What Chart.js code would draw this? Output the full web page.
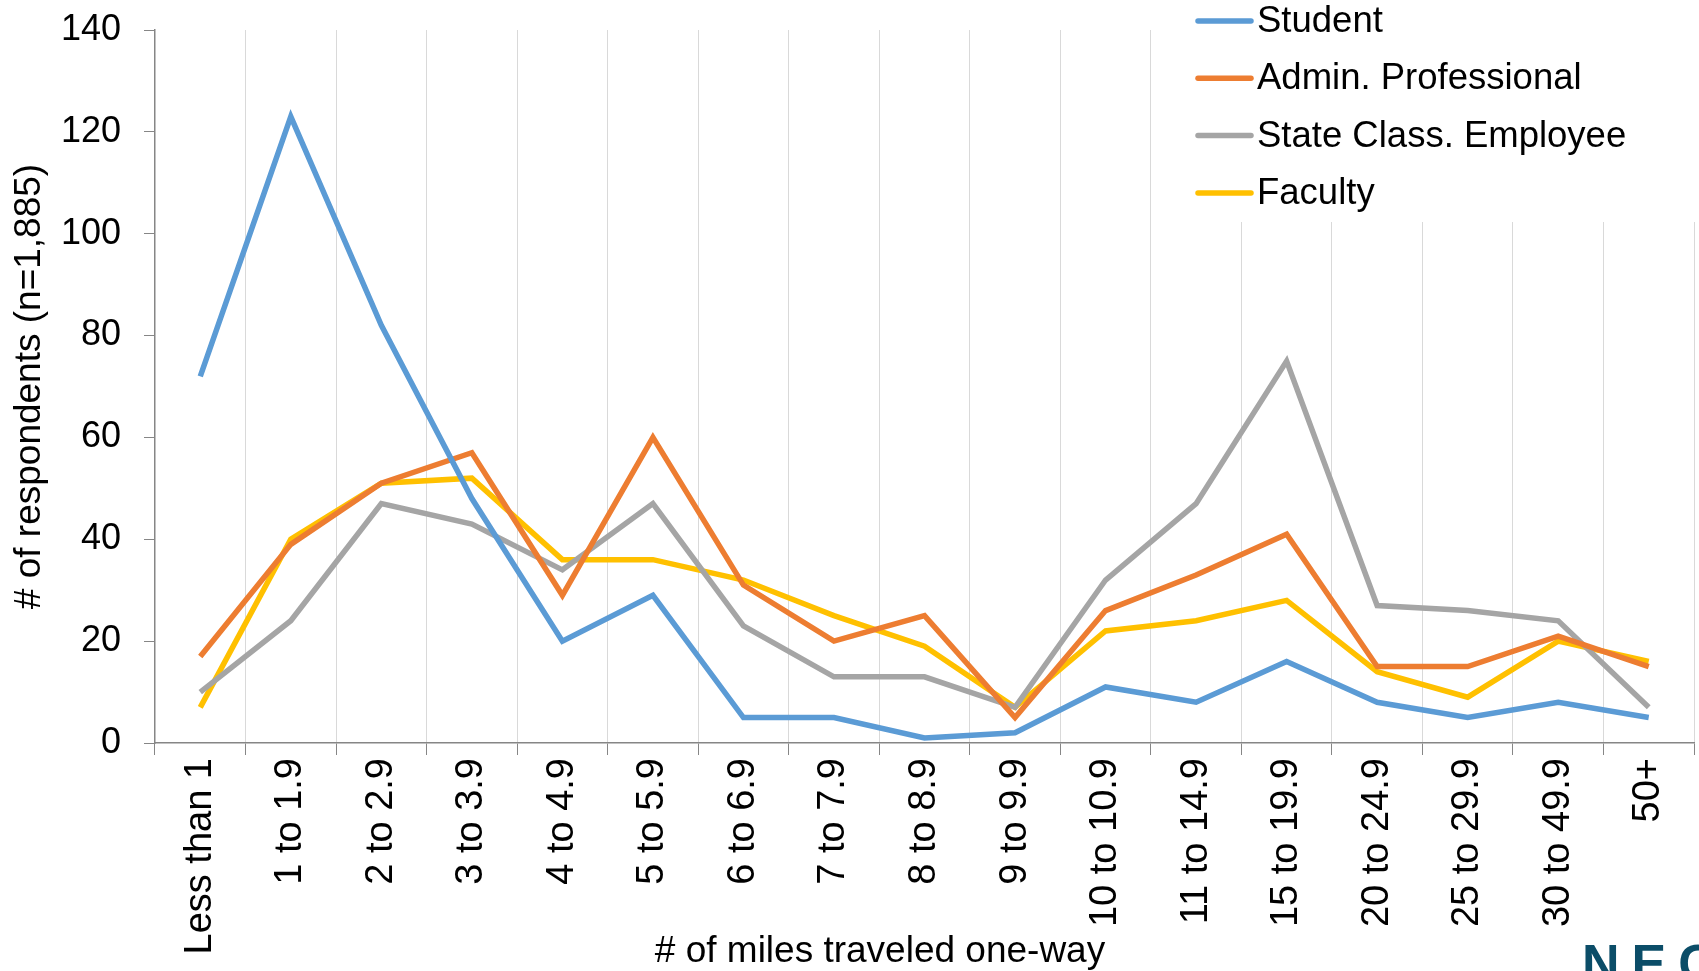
<!DOCTYPE html>
<html lang="en">
<head>
<meta charset="UTF-8">
<title>Miles traveled one-way</title>
<script src="https://cdn.jsdelivr.net/npm/chart.js"></script>
<style>
  html, body { margin: 0; padding: 0; background: #fff; }
  .chart-container { width: 1699px; height: 971px; position: relative; }
</style>
</head>
<body>
<div class="chart-container">
  <canvas id="milesChart"></canvas>
</div>
<script>
const categories = ['Less than 1', '1 to 1.9', '2 to 2.9', '3 to 3.9', '4 to 4.9', '5 to 5.9',
  '6 to 6.9', '7 to 7.9', '8 to 8.9', '9 to 9.9', '10 to 10.9', '11 to 14.9', '15 to 19.9',
  '20 to 24.9', '25 to 29.9', '30 to 49.9', '50+'];

const student   = [72, 123, 82, 48, 20, 29, 5, 5, 1, 2, 11, 8, 16, 8, 5, 8, 5];
const admin     = [17, 39, 51, 57, 29, 60, 31, 20, 25, 5, 26, 33, 41, 15, 15, 21, 15];
const stateEmp  = [10, 24, 47, 43, 34, 47, 23, 13, 13, 7, 32, 47, 75, 27, 26, 24, 7];
const faculty   = [7, 40, 51, 52, 36, 36, 32, 25, 19, 7, 22, 24, 28, 14, 9, 20, 16];

const seriesNames = ['Student', 'Admin. Professional', 'State Class. Employee', 'Faculty'];
const seriesColors = ['#5b9bd5', '#ed7d31', '#a5a5a5', '#ffc000'];

const yTicks = [0, 20, 40, 60, 80, 100, 120, 140];

const FONT = "'Liberation Sans', Arial, sans-serif";
const AXIS_GREY = '#868686';

// legend drawn over the top-right corner, on a white box
const cornerLegend = {
  id: 'cornerLegend',
  afterDraw(chart) {
    const ctx = chart.ctx;
    ctx.save();
    ctx.fillStyle = '#fff';
    ctx.fillRect(1160, 0, chart.width - 1160, 222);
    ctx.font = '36.5px ' + FONT;
    ctx.textBaseline = 'middle';
    chart.data.datasets.forEach((ds, i) => {
      const y = 21 + i * 57.3;
      ctx.strokeStyle = ds.borderColor;
      ctx.lineWidth = 5.5;
      ctx.lineCap = 'round';
      ctx.beginPath();
      ctx.moveTo(1198, y);
      ctx.lineTo(1251, y);
      ctx.stroke();
      ctx.fillStyle = '#000';
      ctx.fillText(ds.label, 1257, y + 1);
    });
    ctx.restore();
  }
};

// x axis title (sits left of centre in the original) and the cut-off logo
const extraText = {
  id: 'extraText',
  afterDraw(chart) {
    const ctx = chart.ctx;
    ctx.save();
    ctx.fillStyle = '#000';
    ctx.font = '37px ' + FONT;
    ctx.textAlign = 'center';
    ctx.textBaseline = 'middle';
    ctx.fillText('# of miles traveled one-way', 880, 952);
    ctx.fillStyle = '#0b4d68';
    ctx.font = 'bold 52px ' + FONT;
    ctx.letterSpacing = '12px';
    ctx.textAlign = 'left';
    ctx.textBaseline = 'alphabetic';
    ctx.fillText('NEC', 1582, 981);
    ctx.restore();
  }
};

const ctx = document.getElementById('milesChart').getContext('2d');
const milesChart = new Chart(ctx, {
  type: 'line',
  data: {
    labels: categories,
    datasets: [student, admin, stateEmp, faculty].map((values, i) => ({
      label: seriesNames[i],
      data: values,
      borderColor: seriesColors[i],
      backgroundColor: seriesColors[i],
      borderWidth: 5.5,
      tension: 0,
      pointRadius: 0,
      fill: false
    }))
  },
  options: {
    responsive: true,
    maintainAspectRatio: false,
    animation: false,
    layout: { padding: { top: 30, right: 5, left: 0, bottom: 0 } },
    plugins: {
      legend: { display: false },
      tooltip: { enabled: false }
    },
    scales: {
      x: {
        offset: true,
        grid: {
          offset: true,
          color: '#d9d9d9',
          lineWidth: 1,
          tickColor: AXIS_GREY,
          tickLength: 12
        },
        border: { color: AXIS_GREY, width: 1.5 },
        ticks: {
          minRotation: 90,
          maxRotation: 90,
          autoSkip: false,
          padding: 3,
          color: '#000',
          font: { family: FONT, size: 38 }
        },
        afterFit(scale) { scale.height = 228; }
      },
      y: {
        min: 0,
        max: 140,
        afterBuildTicks(scale) { scale.ticks = yTicks.map(v => ({ value: v })); },
        grid: {
          drawOnChartArea: false,
          tickColor: AXIS_GREY,
          tickLength: 11
        },
        border: { color: AXIS_GREY, width: 1.5 },
        ticks: {
          padding: 23,
          color: '#000',
          font: { family: FONT, size: 36 }
        },
        title: {
          display: true,
          text: '# of respondents (n=1,885)',
          color: '#000',
          font: { family: FONT, size: 37, lineHeight: 1.2 },
          padding: { top: 8, bottom: 0 }
        },
        afterFit(scale) {
          scale.width = 155;
          scale.paddingTop = 0;
          scale.paddingBottom = 0;
        }
      }
    }
  },
  plugins: [cornerLegend, extraText]
});
</script>
</body>
</html>
